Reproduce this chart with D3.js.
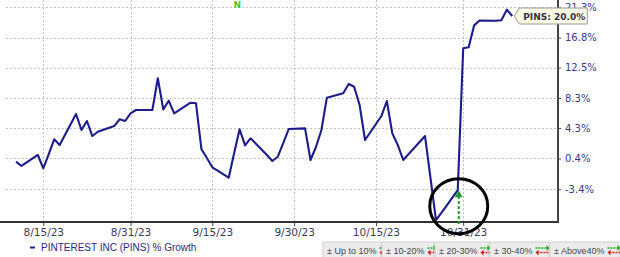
<!DOCTYPE html>
<html>
<head>
<meta charset="utf-8">
<script src="https://cdn.jsdelivr.net/npm/d3@7/dist/d3.min.js"></script>
<style>
body { margin: 0; background: #fff; }
svg { display: block; }
</style>
</head>
<body>
<div class="chart"></div>
<script>
// data (% growth since start, trading days)
var dates = ["8/10/23","8/11/23","8/14/23","8/15/23","8/16/23","8/17/23","8/18/23","8/21/23","8/22/23","8/23/23","8/24/23","8/25/23","8/28/23","8/29/23","8/30/23","8/31/23",
    "9/1/23","9/4/23","9/5/23","9/6/23","9/7/23","9/8/23","9/11/23","9/12/23","9/13/23","9/14/23","9/15/23","9/18/23","9/19/23","9/20/23","9/21/23","9/22/23","9/25/23","9/26/23","9/27/23","9/28/23","9/29/23",
    "10/2/23","10/3/23","10/4/23","10/5/23","10/6/23","10/9/23","10/10/23","10/11/23","10/12/23","10/13/23","10/16/23","10/17/23","10/18/23","10/19/23","10/20/23","10/23/23","10/24/23","10/25/23","10/26/23","10/27/23","10/30/23","10/31/23",
    "11/1/23","11/2/23","11/3/23","11/6/23","11/7/23","11/8/23","11/9/23"];
var growth = [0.0, -0.54, 0.84, -0.83, 0.96, 2.84, 2.11, 6.15, 4.04, 5.22, 3.26, 3.82, 4.56, 5.45, 5.22, 6.24,
    6.68, 6.68, 11.0, 6.77, 7.93, 6.24, 7.66, 7.58, 1.56, 0.46, -0.70, -1.99, 1.09, 4.13, 2.07, 2.97, 0.84, 0.08, 0.62, 2.36, 4.17,
    4.26, 0.21, 1.85, 4.04, 8.34, 8.93, 10.21, 9.84, 7.35, 2.75, 5.88, 7.89, 3.61, 2.11, 0.21, 2.49, 3.26, -2.02, -7.04, -6.22, -3.5, 15.25,
    15.39, 18.6, 19.33, 19.30, 19.36, 20.95, 20.0];
var yTicks = [-3.4, 0.4, 4.3, 8.3, 12.5, 16.8, 21.3];
var xTicks = ["8/15/23", "8/31/23", "9/15/23", "9/30/23", "10/15/23", "10/31/23"];
var seriesName = "PINTEREST INC (PINS) % Growth";
var lastLabel = "PINS: 20.0%";
var eventDate = "10/30/23";
var markerDate = "9/19/23";
var bandLabels = ["± Up to 10%", "± 10-20%", "± 20-30%", "± 30-40%", "± Above40%"];

var svgWidth = 620;
var svgHeight = 257;
var plotLeft = 6, plotRight = 558, plotBottom = 222;

var parse = d3.timeParse("%m/%d/%y");
var points = dates.map(function(d, i) {
    return { date: parse(d), ratio: 1 + growth[i] / 100 };
});

var svg = d3.select(".chart")
    .append("svg")
    .attr("width", svgWidth)
    .attr("height", svgHeight);

var x = d3.scaleTime()
    .domain([parse("8/15/23"), parse("10/31/23")])
    .range([43.3, 463.2]);

// log scale on price ratio -> gridlines evenly spaced
var y = d3.scaleLog()
    .domain([0.966, 1.213])
    .range([189.3, 7.4]);

// gridlines
svg.append("g").selectAll("line")
    .data(yTicks)
    .enter()
    .append("line")
    .attr("x1", plotLeft)
    .attr("x2", plotRight)
    .attr("y1", d => Math.round(y(1 + d / 100)) + 0.5)
    .attr("y2", d => Math.round(y(1 + d / 100)) + 0.5)
    .attr("stroke", "#c4c4c4")
    .attr("stroke-dasharray", "2,2");

svg.append("g").selectAll("line")
    .data(xTicks)
    .enter()
    .append("line")
    .attr("x1", d => Math.round(x(parse(d))) + 0.5)
    .attr("x2", d => Math.round(x(parse(d))) + 0.5)
    .attr("y1", 0)
    .attr("y2", plotBottom)
    .attr("stroke", "#c4c4c4")
    .attr("stroke-dasharray", "2,2");

// axes
var rightAxis = d3.axisRight(y)
    .tickValues(yTicks.map(d => 1 + d / 100))
    .tickFormat((d, i) => yTicks[i].toFixed(1) + "%")
    .tickSize(3)
    .tickPadding(4);

var ra = svg.append("g")
    .attr("transform", `translate(${plotRight}, 0)`)
    .call(rightAxis);
ra.select(".domain").remove();
ra.selectAll("line").attr("stroke", "#444");
ra.selectAll("text")
    .attr("fill", "#3a3a88")
    .style("font-family", "DejaVu Sans")
    .style("font-size", "10px");

var bottomAxis = d3.axisBottom(x)
    .tickValues(xTicks.map(parse))
    .tickFormat(d3.timeFormat("%-m/%-d/%y"))
    .tickSize(4)
    .tickPadding(3);

var ba = svg.append("g")
    .attr("transform", `translate(0, ${plotBottom})`)
    .call(bottomAxis);
ba.select(".domain").remove();
ba.selectAll("line").attr("stroke", "#444");
ba.selectAll("text")
    .attr("fill", "#3a3a5a")
    .style("font-family", "DejaVu Sans")
    .style("font-size", "10.5px");

svg.append("line")
    .attr("x1", 0).attr("x2", plotRight + 1)
    .attr("y1", plotBottom).attr("y2", plotBottom)
    .attr("stroke", "#333")
    .attr("stroke-width", 2);

svg.append("line")
    .attr("x1", plotRight).attr("x2", plotRight)
    .attr("y1", 0).attr("y2", plotBottom)
    .attr("stroke", "#444")
    .attr("stroke-width", 2);

// the growth line
var line = d3.line()
    .x(d => x(d.date))
    .y(d => y(d.ratio));

svg.append("path")
    .datum(points)
    .attr("fill", "none")
    .attr("stroke", "#1c1c8a")
    .attr("stroke-width", 2.1)
    .attr("stroke-linejoin", "round")
    .attr("d", line);

// "N" marker at the top
svg.append("text")
    .attr("x", x(parse(markerDate)) + 3)
    .attr("y", 8)
    .attr("text-anchor", "middle")
    .attr("fill", "#44cc33")
    .style("font-family", "DejaVu Sans")
    .style("font-weight", "bold")
    .style("font-size", "9px")
    .text("N");

// earnings arrow + circle
var ev = points[dates.indexOf(eventDate)];
var ex = x(ev.date) + 1;
var ey = y(ev.ratio);

svg.append("line")
    .attr("x1", ex).attr("x2", ex)
    .attr("y1", plotBottom + 2).attr("y2", ey + 6)
    .attr("stroke", "#1f9a2a")
    .attr("stroke-width", 2)
    .attr("stroke-dasharray", "3,2");

svg.append("path")
    .attr("d", `M${ex - 4},${ey + 7}L${ex},${ey}L${ex + 4},${ey + 7}Z`)
    .attr("fill", "#1f9a2a");

svg.append("ellipse")
    .attr("cx", ex)
    .attr("cy", ey + 16)
    .attr("rx", 29)
    .attr("ry", 27.5)
    .attr("fill", "none")
    .attr("stroke", "#000")
    .attr("stroke-width", 3);

// last value tag
var last = points[points.length - 1];
var lx = x(last.date) + 2;
var ly = y(last.ratio);

svg.append("path")
    .attr("d", `M${lx},${ly}L${lx + 5},${ly - 8}H${lx + 73}V${ly + 8}H${lx + 5}Z`)
    .attr("fill", "#fbfbe6")
    .attr("stroke", "#9a9a9a");

svg.append("text")
    .attr("x", lx + 9)
    .attr("y", ly + 3.5)
    .attr("fill", "#333344")
    .style("font-family", "DejaVu Sans")
    .style("font-weight", "bold")
    .style("font-size", "9px")
    .text(lastLabel);

// series legend
svg.append("line")
    .attr("x1", 30).attr("x2", 35)
    .attr("y1", 247.5).attr("y2", 247.5)
    .attr("stroke", "#1f1f8c")
    .attr("stroke-width", 2);

svg.append("text")
    .attr("x", 41)
    .attr("y", 251.3)
    .attr("fill", "#2a2a80")
    .style("font-family", "Liberation Sans")
    .style("font-size", "10px")
    .text(seriesName);

// growth band boxes
var bandWidths = [59, 53, 55, 60, 70];
var arrowLens = [8, 9, 10, 14, 13];
var bx = 323;
bandLabels.forEach(function(lbl, i) {
    var g = svg.append("g").attr("transform", `translate(${bx}, 242)`);
    g.append("rect")
        .attr("x", 0).attr("y", 0)
        .attr("width", bandWidths[i] - 1).attr("height", 17)
        .attr("fill", "#ececec")
        .attr("stroke", "#d0d0d0");
    var t = g.append("text")
        .attr("x", 4)
        .attr("y", 11.5)
        .attr("fill", "#444")
        .style("font-family", "Liberation Sans")
        .style("font-size", "9px")
        .text(lbl);
    var tw = t.node().getComputedTextLength();
    var ax = 4 + tw + 3;
    var al = arrowLens[i];
    var dash = i >= 1 ? "2,1" : null;
    g.append("line")
        .attr("x1", ax).attr("x2", ax + al - 2)
        .attr("y1", 6).attr("y2", 6)
        .attr("stroke", "#22aa22").attr("stroke-width", 1.5)
        .attr("stroke-dasharray", dash);
    g.append("path")
        .attr("d", `M${ax + al - 3},3L${ax + al},6L${ax + al - 3},9Z`)
        .attr("fill", "#22aa22");
    g.append("line")
        .attr("x1", ax + 2).attr("x2", ax + al)
        .attr("y1", 10.5).attr("y2", 10.5)
        .attr("stroke", "#dd2222").attr("stroke-width", 1.5)
        .attr("stroke-dasharray", dash);
    g.append("path")
        .attr("d", `M${ax + 3},7.5L${ax},10.5L${ax + 3},13.5Z`)
        .attr("fill", "#dd2222");
    bx += bandWidths[i];
});
</script>
</body>
</html>
